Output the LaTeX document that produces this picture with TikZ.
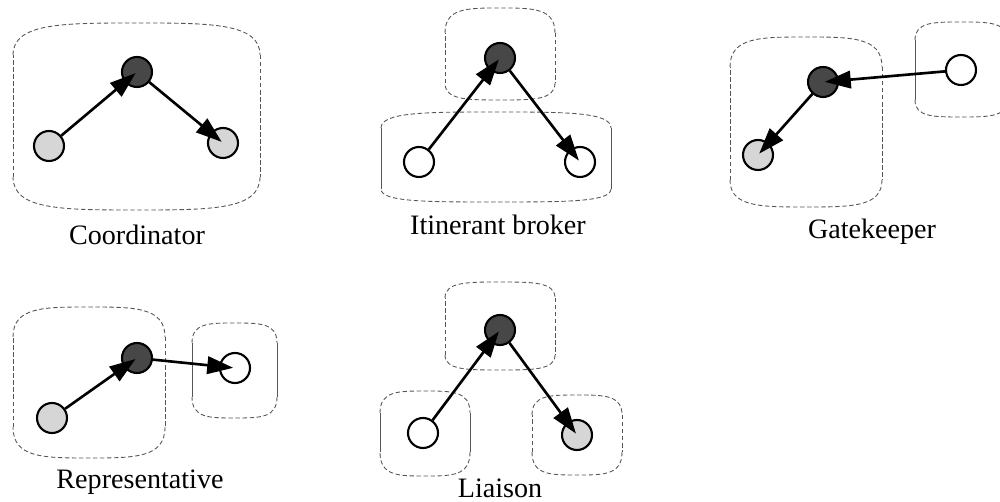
\documentclass[tikz,border=0pt]{standalone}
\usepackage{fontspec}
\setmainfont{Liberation Serif}
\usetikzlibrary{arrows.meta}
\definecolor{darkfill}{HTML}{474747}
\definecolor{grayfill}{HTML}{D6D6D6}
\definecolor{boxline}{HTML}{555555}
\newcommand\barrel[8]{%
  \draw[#2] (#3,{#4+#7}) .. controls (#3,#4) and ({#3+0.2*(#5-#3)},#4) .. ({0.5*(#3+#5)},#4)
        .. controls ({#5-0.2*(#5-#3)},#4) and (#5,#4) .. (#5,{#4+#7});
  \draw[#1] (#5,{#4+#7}) -- (#5,{#6-#8});
  \draw[#2] (#5,{#6-#8}) .. controls (#5,#6) and ({#5-0.2*(#5-#3)},#6) .. ({0.5*(#3+#5)},#6)
        .. controls ({#3+0.2*(#5-#3)},#6) and (#3,#6) .. (#3,{#6-#8});
  \draw[#1] (#3,{#6-#8}) -- (#3,{#4+#7});
}
\tikzset{
  dsh/.style={draw=boxline, line width=0.5pt, dash pattern=on 2.5pt off 1.5pt},
  sld/.style={draw=boxline, line width=0.45pt},
  actor/.style={circle, draw=black, line width=1.2pt, minimum size=0.6cm, inner sep=0pt},
  dark/.style={actor, fill=darkfill},
  grey/.style={actor, fill=grayfill},
  white/.style={actor, fill=white},
  arr/.style={line width=1.5pt, -{Triangle[length=0.52cm,width=0.35cm]}, shorten >=1pt},
  lab/.style={font=\fontsize{16}{18}\selectfont, inner sep=0pt}
}
\begin{document}
\begin{tikzpicture}[x=0.02cm, y=-0.02cm]
\useasboundingbox (0,0) rectangle (1000,502);
\clip (0,0) rectangle (1000,502);
% containers
\barrel{dsh}{dsh}{13}{23}{260}{210}{32}{33}
\barrel{dsh}{dsh}{445}{8}{555}{100}{25}{17}
\barrel{sld}{dsh}{381}{112}{611}{202}{16}{13}
\barrel{dsh}{dsh}{730}{37}{882}{207}{30}{27}
\barrel{sld}{dsh}{915}{22}{1007}{117}{18}{17}
\barrel{dsh}{dsh}{13}{307}{165}{458}{30}{31}
\barrel{sld}{dsh}{192}{323}{277}{418}{20}{21}
\barrel{dsh}{dsh}{445}{282}{555}{370}{16}{15}
\barrel{sld}{dsh}{380}{391}{470}{476}{22}{24}
\barrel{dsh}{dsh}{532}{395}{622}{475}{20}{23}
% Coordinator
\node[dark] (c1) at (137,72) {};
\node[grey] (c2) at (49,146) {};
\node[grey] (c3) at (223,143) {};
\draw[arr] (c2) -- (c1.center);
\draw[arr] (c1) -- (c3.center);
\node[lab] (l1) at (137,235) {Coordinator};
% Itinerant broker
\node[dark] (i1) at (500,58) {};
\node[white] (i2) at (419,162) {};
\node[white] (i3) at (580,162) {};
\draw[arr] (i2) -- (i1.center);
\draw[arr] (i1) -- (i3.center);
\node[lab] (l2) at (498,225) {Itinerant broker};
% Gatekeeper
\node[dark] (g1) at (823,82) {};
\node[grey] (g2) at (758,155) {};
\node[white] (g3) at (961,70) {};
\draw[arr] (g3) -- (g1.center);
\draw[arr] (g1) -- (g2.center);
\node[lab] (l3) at (872,232) {Gatekeeper};
% Representative
\node[dark] (r1) at (137,358) {};
\node[grey] (r2) at (52,418) {};
\node[white] (r3) at (235,368) {};
\draw[arr] (r2) -- (r1.center);
\draw[arr] (r1) -- (r3.center);
\node[lab] (l4) at (140,482) {Representative};
% Liaison
\node[dark] (s1) at (500,330) {};
\node[white] (s2) at (423,433) {};
\node[grey] (s3) at (577,435) {};
\draw[arr] (s2) -- (s1.center);
\draw[arr] (s1) -- (s3.center);
\node[lab] (l5) at (500,488) {Liaison};
\end{tikzpicture}
\end{document}
